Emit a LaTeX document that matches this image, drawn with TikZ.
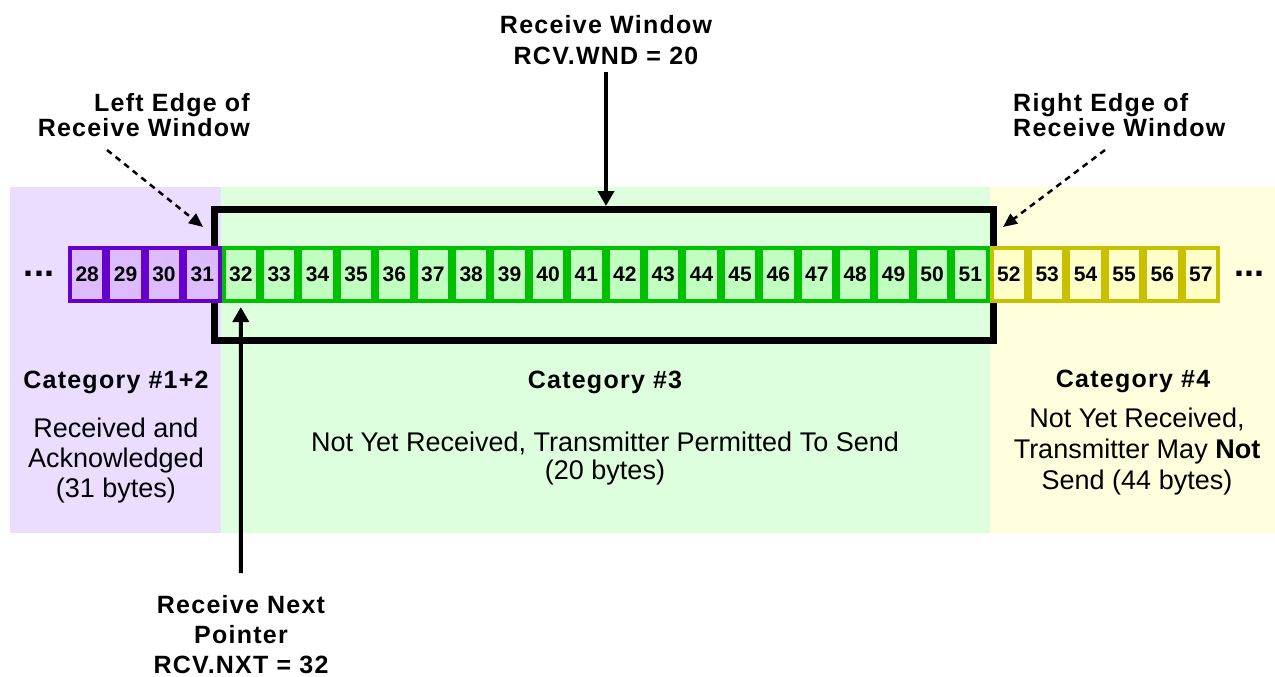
\documentclass[tikz,border=0pt]{standalone}
\usepackage{fontspec}
\setmainfont{Liberation Sans}
\newfontfamily\hdfont[LetterSpace=5]{Liberation Sans}
\usetikzlibrary{arrows.meta,calc}
\definecolor{bgP}{HTML}{EBDDFF}
\definecolor{bgG}{HTML}{DDFFDD}
\definecolor{bgY}{HTML}{FFFFDD}
\definecolor{lnP}{HTML}{6600CC}
\definecolor{fiP}{HTML}{DDBBFF}
\definecolor{lnG}{HTML}{00C000}
\definecolor{fiG}{HTML}{C0FFC0}
\definecolor{lnY}{HTML}{C8C000}
\definecolor{fiY}{HTML}{FFFFC8}
\tikzset{
  cellbox/.style={draw, line width=4pt, minimum width=34.4pt, minimum height=53pt, inner sep=0pt,
    font=\bfseries\fontsize{21}{24}\selectfont},
  cellP/.style={cellbox, draw=lnP, fill=fiP},
  cellG/.style={cellbox, draw=lnG, fill=fiG},
  cellY/.style={cellbox, draw=lnY, fill=fiY},
  hdtext/.style={align=center, inner sep=0pt, font=\hdfont\bfseries\fontsize{25}{31}\selectfont},
  bodytext/.style={align=center, inner sep=0pt, font=\fontsize{27}{30}\selectfont},
  solidarrow/.style={line width=4pt, -{Triangle[length=15pt,width=16pt]}},
  dasharrow/.style={line width=2.5pt, dash pattern=on 6pt off 5pt, -{Triangle[length=14pt,width=12pt]}},
  dotstext/.style={inner sep=0pt, font=\bfseries\fontsize{36}{36}\selectfont}
}
\begin{document}
\begin{tikzpicture}[x=1pt, y=-1pt]
\useasboundingbox (0,0) rectangle (1275,677);
% background regions
\fill[bgP] (10,187) rectangle (221,533);
\fill[bgG] (221,187) rectangle (990,533);
\fill[bgY] (990,187) rectangle (1275,533);
% receive window rectangle
\node[draw, line width=7pt, minimum width=779pt, minimum height=130.5pt, inner sep=0pt] (win) at (604,274.75) {};
% cells
\foreach \i in {28,...,31} \node[cellP] (c\i) at ({87.2+(\i-28)*38.4}, 274.5) {\i};
\foreach \i in {32,...,51} \node[cellG] (c\i) at ({87.2+(\i-28)*38.4}, 274.5) {\i};
\foreach \i in {52,...,57} \node[cellY] (c\i) at ({87.2+(\i-28)*38.4}, 274.5) {\i};
% ellipses
\node[dotstext] (dotsL) at (39,274) {...};
\node[dotstext] (dotsR) at (1249,274) {...};
% labels
\node[hdtext] (rwlbl) at (606,40) {Receive Window\\RCV.WND = 20};
\node[hdtext, align=right, anchor=east, font=\hdfont\bfseries\fontsize{25}{25}\selectfont] (lelbl) at (250,115) {Left Edge of\\Receive Window};
\node[hdtext, align=left, anchor=west, font=\hdfont\bfseries\fontsize{25}{25}\selectfont] (relbl) at (1013,115) {Right Edge of\\Receive Window};
\node[hdtext, font=\hdfont\bfseries\fontsize{25}{30}\selectfont] (rnlbl) at (241,635) {Receive Next\\Pointer\\RCV.NXT = 32};
% categories
\node[hdtext] (cat12) at (116,382) {Category \#1+2};
\node[bodytext] (txt12) at (116,461) {Received and\\Acknowledged\\(31 bytes)};
\node[hdtext] (cat3) at (605,382) {Category \#3};
\node[bodytext, font=\fontsize{27}{28}\selectfont] (txt3) at (605,459) {Not Yet Received, Transmitter Permitted To Send\\(20 bytes)};
\node[hdtext] (cat4) at (1133,381) {Category \#4};
\node[bodytext, font=\fontsize{27}{31}\selectfont] (txt4) at (1137,452) {Not Yet Received,\\Transmitter May \textbf{Not}\\Send (44 bytes)};
% arrows
\coordinate (rwstart) at (606,72);
\coordinate (rwend) at (606,206);
\draw[solidarrow] (rwstart) -- (rwend);
\coordinate (lestart) at (107,150);
\coordinate (leend) at (203,227);
\draw[dasharrow] (lestart) -- (leend);
\coordinate (restart) at (1105,150);
\coordinate (reend) at (1003,227);
\draw[dasharrow] (restart) -- (reend);
\coordinate (rnstart) at (240.8,573);
\draw[solidarrow] (rnstart) -- ($(c32.south)+(0,4)$);
\end{tikzpicture}
\end{document}
